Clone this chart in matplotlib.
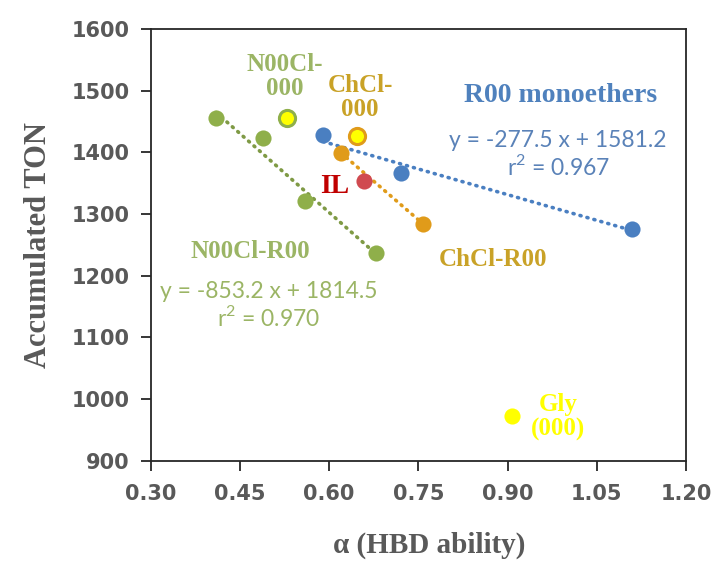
import numpy as np
import matplotlib
matplotlib.use("Agg")
import matplotlib.pyplot as plt
from matplotlib.ticker import FormatStrFormatter

# ---- data ----
r00_x = [0.590, 0.721, 1.110]
r00_y = [1428, 1367, 1275]
n00_x = [0.410, 0.489, 0.560, 0.679]
n00_y = [1456, 1423, 1321, 1237]
chcl_x = [0.620, 0.758]
chcl_y = [1399, 1284]
il_x = [0.659]
il_y = [1354]
n00_000_x = [0.529]
n00_000_y = [1456]
chcl_000_x = [0.647]
chcl_000_y = [1427]
gly_x = [0.908]
gly_y = [972]

r00_fit = (-277.5, 1581.2, 0.967)
n00_fit = (-853.2, 1814.5, 0.970)

xticks = [0.30, 0.45, 0.60, 0.75, 0.90, 1.05, 1.20]
yticks = [900, 1000, 1100, 1200, 1300, 1400, 1500, 1600]

# ---- colours ----
BLUE = '#4A7FC1'
GREEN = '#8FAF4A'
ORANGE = '#E09B1A'
RED = '#D04A50'
YELLOW = '#FFFF00'
GREEN_T = '#9BB565'
GOLD_T = '#C9A227'
BLUE_T = '#4F81BD'
GRAY = '#595959'

plt.rcParams['mathtext.fontset'] = 'custom'
plt.rcParams['mathtext.rm'] = 'Lato'

fig = plt.figure(figsize=(7.15, 5.69), dpi=100)
ax = fig.add_axes([0.2108, 0.1903, 0.7486, 0.7587])

ax.set_xlim(0.30, 1.20)
ax.set_ylim(900, 1600)

dot = dict(linestyle=(0, (0.3, 1.7)), linewidth=2.6, dash_capstyle='round', zorder=2)

# trendlines
xs = np.array([min(r00_x), max(r00_x)])
ax.plot(xs, r00_fit[0] * xs + r00_fit[1], color=BLUE, **dot)
xs = np.array([min(n00_x), max(n00_x)])
ax.plot(xs, n00_fit[0] * xs + n00_fit[1], color='#7F9A45', **dot)
cf = np.polyfit(chcl_x, chcl_y, 1)
xs = np.array([min(chcl_x), max(chcl_x)])
ax.plot(xs, np.polyval(cf, xs), color=ORANGE, **dot)

S = 135
ax.scatter(r00_x, r00_y, s=S, color=BLUE, zorder=3, linewidths=0)
ax.scatter(n00_x, n00_y, s=S, color=GREEN, zorder=3, linewidths=0)
ax.scatter(chcl_x, chcl_y, s=S, color=ORANGE, zorder=3, linewidths=0)
ax.scatter(il_x, il_y, s=S, color=RED, zorder=3, linewidths=0)
ax.scatter(n00_000_x, n00_000_y, s=S, color=YELLOW, edgecolors=GREEN, linewidths=2.2, zorder=3)
ax.scatter(chcl_000_x, chcl_000_y, s=S, color=YELLOW, edgecolors=ORANGE, linewidths=2.2, zorder=3)
ax.scatter(gly_x, gly_y, s=S, color=YELLOW, zorder=3, linewidths=0)

serif = dict(family='Liberation Serif', fontweight='bold', ha='center', va='center',
             linespacing=1.05)
eq = dict(family='Lato', ha='center', va='center', fontsize=16.5, linespacing=1.15)

ax.text(0.526, 1523, 'N00Cl-\n000', color=GREEN_T, fontsize=18, **serif)
ax.text(0.652, 1489, 'ChCl-\n000', color=GOLD_T, fontsize=18, **serif)
ax.text(0.610, 1344, 'IL', color='#C00000', fontsize=20, **serif)
ax.text(0.989, 1493, 'R00 monoethers', color=BLUE_T, fontsize=20, **serif)
ax.text(0.985, 1396, 'y = %.1f x + %.1f\nr$^{2}$ = %.3f' % r00_fit, color='#5A82B8', **eq)
ax.text(0.876, 1227, 'ChCl-R00', color=GOLD_T, fontsize=18, **serif)
ax.text(0.467, 1240, 'N00Cl-R00', color=GREEN_T, fontsize=18, **serif)
ax.text(0.498, 1151, 'y = %.1f x + %.1f\nr$^{2}$ = %.3f' % n00_fit, color=GREEN_T, **eq)
ax.text(0.985, 971, 'Gly\n(000)', color=YELLOW, fontsize=18, **serif)

ax.set_xticks(xticks)
ax.set_yticks(yticks)
ax.xaxis.set_major_formatter(FormatStrFormatter('%.2f'))
ax.tick_params(axis='both', direction='out', length=7, width=1.3, color='#262626',
               labelcolor=GRAY)
ax.tick_params(axis='x', pad=10)
ax.tick_params(axis='y', pad=8)
for lab in ax.get_xticklabels() + ax.get_yticklabels():
    lab.set_family('DejaVu Sans')
    lab.set_fontweight('bold')
    lab.set_fontsize(15)

for sp in ax.spines.values():
    sp.set_color('#262626')
    sp.set_linewidth(1.3)

ax.set_ylabel('Accumulated TON', family='Liberation Serif', fontweight='bold',
              fontsize=22, color=GRAY)
ax.yaxis.set_label_coords(-0.182, 0.5)
ax.set_xlabel('α (HBD ability)', family='Liberation Serif', fontweight='bold',
              fontsize=21, color=GRAY)
ax.xaxis.set_label_coords(0.52, -0.165)

fig.savefig('out.png', dpi=100)
